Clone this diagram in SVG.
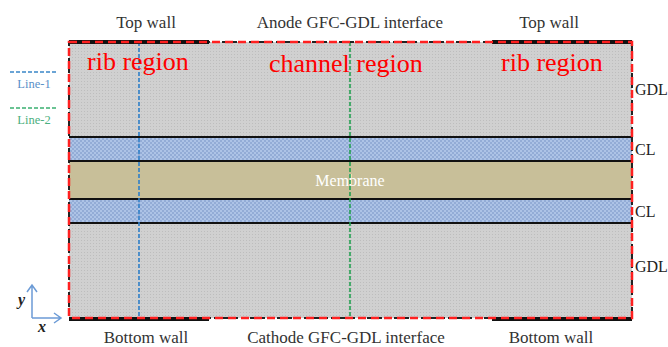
<svg xmlns="http://www.w3.org/2000/svg" width="668" height="347" viewBox="0 0 668 347">
<style>
.lbl{font-family:"Liberation Serif",serif;font-size:17px;fill:#333}
.reg{font-family:"Liberation Serif",serif;font-size:26px;fill:#ff0000}
.side{font-family:"Liberation Serif",serif;font-size:16px;fill:#222}
.leg{font-family:"Liberation Serif",serif;font-size:12.5px}
.edge{stroke:#111;stroke-width:2;fill:none}
.wall{stroke:#111;stroke-width:4;fill:none}
.red{stroke:#ff2020;stroke-width:2.5;fill:none;stroke-dasharray:8 5}
</style>
<defs>
<pattern id="gdl" width="3" height="3" patternUnits="userSpaceOnUse">
<rect width="3" height="3" fill="#d0d0d0"/><rect width="1" height="1" fill="#bdbdbd"/>
</pattern>
<pattern id="cl" width="4" height="4" patternUnits="userSpaceOnUse">
<rect width="4" height="4" fill="#adc3e6"/><rect width="2" height="2" fill="#93acd6"/><rect x="2" y="2" width="2" height="2" fill="#93acd6"/>
</pattern>
</defs>
<g id="layers">
<rect id="gdl-top" x="69" y="42" width="563" height="95" fill="url(#gdl)"/>
<rect id="cl-top" x="69" y="137" width="563" height="24" fill="url(#cl)"/>
<rect id="membrane" x="69" y="161" width="563" height="38" fill="#c8bf99"/>
<rect id="cl-bottom" x="69" y="199" width="563" height="24" fill="url(#cl)"/>
<rect id="gdl-bottom" x="69" y="223" width="563" height="95" fill="url(#gdl)"/>
<line class="edge" x1="69" y1="137" x2="632" y2="137"/>
<line class="edge" x1="69" y1="161" x2="632" y2="161"/>
<line class="edge" x1="69" y1="199" x2="632" y2="199"/>
<line class="edge" x1="69" y1="223" x2="632" y2="223"/>
<text x="350" y="186" text-anchor="middle" style="font-family:'Liberation Serif',serif;font-size:16px;fill:#fff">Membrane</text>
</g>
<g id="connectors">
<line x1="139" y1="42" x2="139" y2="318" stroke="#2f7fc8" stroke-width="1.6" stroke-dasharray="4 2"/>
<line x1="350" y1="42" x2="350" y2="318" stroke="#22a050" stroke-width="1.6" stroke-dasharray="4 2"/>
</g>
<g id="border">
<rect x="69" y="42" width="563" height="276" fill="none" stroke="#222" stroke-width="2" stroke-dasharray="6 3"/>
<path class="wall" d="M69 42 H209 M492 42 H632 M69 319 H209 M492 319 H632"/>
<rect class="red" x="69" y="42" width="563" height="276"/>
</g>
<g id="labels">
<text class="lbl" x="146" y="28" text-anchor="middle">Top wall</text>
<text class="lbl" x="350" y="28" text-anchor="middle">Anode GFC-GDL interface</text>
<text class="lbl" x="549" y="28" text-anchor="middle">Top wall</text>
<text class="lbl" x="146" y="343" text-anchor="middle">Bottom wall</text>
<text class="lbl" x="346" y="343" text-anchor="middle">Cathode GFC-GDL interface</text>
<text class="lbl" x="551" y="343" text-anchor="middle">Bottom wall</text>
<text class="reg" x="87" y="70">rib region</text>
<text class="reg" x="269" y="72">channel region</text>
<text class="reg" x="501" y="71">rib region</text>
<text class="side" x="635" y="95">GDL</text>
<text class="side" x="635" y="155">CL</text>
<text class="side" x="635" y="217">CL</text>
<text class="side" x="635" y="272">GDL</text>
</g>
<g id="legend">
<line x1="10" y1="72" x2="58" y2="72" stroke="#3a86c8" stroke-width="1.5" stroke-dasharray="4 2"/>
<text class="leg" x="34" y="88" text-anchor="middle" fill="#5a90c8">Line-1</text>
<line x1="10" y1="108" x2="58" y2="108" stroke="#3ab070" stroke-width="1.5" stroke-dasharray="4 2"/>
<text class="leg" x="34" y="124" text-anchor="middle" fill="#4cb080">Line-2</text>
</g>
<g id="axes" stroke="#6c9bd6" stroke-width="1.5" fill="none">
<path d="M32 318 V286 M27 292 L32 285 L37 292"/>
<path d="M32 318 H60 M54 313 L61 318 L54 323"/>
</g>
<text x="18" y="305" style="font-family:'Liberation Serif',serif;font-size:16px;font-style:italic;font-weight:bold;fill:#222">y</text>
<text x="38" y="332" style="font-family:'Liberation Serif',serif;font-size:16px;font-style:italic;font-weight:bold;fill:#222">x</text>
</svg>
